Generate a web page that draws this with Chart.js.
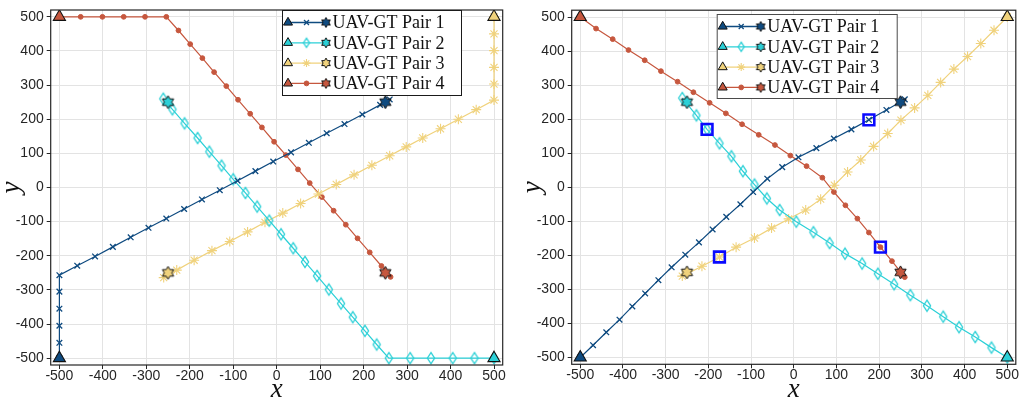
<!DOCTYPE html>
<html>
<head>
<meta charset="utf-8">
<script src="https://cdn.jsdelivr.net/npm/chart.js@4.4.1/dist/chart.umd.min.js"></script>
<style>
  html, body { margin: 0; padding: 0; background: #ffffff; }
  #wrap { position: relative; width: 1026px; height: 402px; overflow: hidden; }
  .panel { position: absolute; top: 0; width: 513px; height: 402px; }
  #p1 { left: 0; }
  #p2 { left: 513px; }
</style>
</head>
<body>
<div id="wrap">
  <div class="panel" id="p1"><canvas id="c1"></canvas></div>
  <div class="panel" id="p2"><canvas id="c2"></canvas></div>
</div>
<script>
// ---- series names and colours ----
const pairNames = ['UAV-GT Pair 1', 'UAV-GT Pair 2', 'UAV-GT Pair 3', 'UAV-GT Pair 4'];
const pairColors = ['#0f4b80', '#2bd0d7', '#f0d27c', '#c6573e'];

// ---- shared axis ticks ----
const tickValues = [-500, -400, -300, -200, -100, 0, 100, 200, 300, 400, 500];

// ---- start (triangle) and goal (hexagram) positions for each pair ----
const startPoints = [[-500, -500], [500, -500], [500, 500], [-500, 500]];
const goalPoints = [[250, 250], [-250, 250], [-250, -250], [250, -250]];

// ---- left panel trajectories ----
const leftPair1 = [[-500,-500],[-500,-455],[-500,-405],[-500,-355],[-500,-305],[-500,-257],
  [-459,-229],[-418,-202],[-377,-174],[-336,-146],[-295,-118],[-254,-91],[-213,-63],
  [-172,-35],[-131,-8],[-90,20],[-49,48],[-8,76],[33,103],[74,131],[115,159],[156,186],
  [197,214],[238,242],[260,258]];
const leftPair2 = [[500,-500],[455,-500],[405,-500],[355,-500],[307,-500],[258,-500],
  [230,-460],[203,-420],[175,-380],[148,-340],[120,-299],[93,-259],[65,-218],[38,-178],
  [10,-137],[-17,-97],[-45,-56],[-72,-16],[-100,24],[-127,64],[-155,105],[-182,145],
  [-212,188],[-240,229],[-261,260]];
const leftPair3 = [[500,500],[500,450],[500,401],[500,352],[500,303],[500,256],
  [459,228],[418,200],[377,172],[336,145],[298,119],[260,93],[219,65],[178,37],[137,9],
  [96,-19],[55,-47],[14,-75],[-27,-102],[-67,-130],[-108,-158],[-149,-185],[-190,-213],
  [-230,-242],[-260,-264]];
const leftPair4 = [[-500,500],[-451,500],[-401,500],[-352,500],[-303,500],[-254,500],
  [-226,460],[-199,420],[-171,379],[-144,338],[-116,297],[-89,257],[-61,216],[-34,176],
  [-6,134],[21,95],[49,53],[76,13],[104,-28],[131,-68],[159,-109],[186,-149],[214,-190],
  [241,-230],[262,-262]];

// ---- right panel trajectories ----
const rightPair1 = [[-500,-500],[-470,-464],[-439,-426],[-408,-389],[-378,-350],[-348,-312],
  [-317,-273],[-286,-235],[-254,-198],[-222,-162],[-190,-124],[-158,-87],[-125,-50],
  [-95,-14],[-62,25],[-27,59],[11,88],[53,115],[94,143],[135,170],[176,198],[217,227],
  [260,258]];
const rightPair2 = [[500,-500],[463,-471],[425,-440],[387,-411],[350,-380],[312,-348],
  [273,-317],[235,-285],[197,-254],[160,-224],[120,-195],[84,-164],[46,-132],[6,-101],
  [-33,-67],[-63,-33],[-92,8],[-119,47],[-146,91],[-174,129],[-203,170],[-228,211],
  [-261,262]];
const rightPair3 = [[500,500],[469,461],[438,422],[407,384],[375,347],[344,308],[314,270],
  [283,233],[251,197],[220,158],[187,120],[157,80],[126,45],[95,6],[63,-35],[28,-67],
  [-12,-93],[-52,-120],[-92,-149],[-135,-176],[-174,-205],[-215,-232],[-261,-261]];
const rightPair4 = [[-500,500],[-463,466],[-424,435],[-387,403],[-349,373],[-311,341],
  [-272,310],[-235,279],[-197,248],[-159,217],[-121,185],[-82,154],[-44,124],[-8,93],
  [30,62],[67,28],[94,-14],[121,-53],[149,-92],[176,-133],[203,-176],[230,-217],[260,-264]];

// ---- highlighted waypoints (blue squares) on the right panel ----
const rightMarked = [[176,198],[-203,170],[-174,-205],[203,-176]];

// ---------------------------------------------------------------
const toXY = arr => arr.map(([x, y]) => ({ x, y }));

function makeHexagram(fill, R) {
  const s = Math.ceil(R * 2 + 4);
  const cv = document.createElement('canvas');
  cv.width = s; cv.height = s;
  const g = cv.getContext('2d');
  const c = s / 2, r = R / Math.sqrt(3);
  g.beginPath();
  for (let k = 0; k < 12; k++) {
    const a = -Math.PI / 2 + k * Math.PI / 6;
    const rr = k % 2 === 0 ? R : r;
    const px = c + rr * Math.cos(a), py = c + rr * Math.sin(a);
    if (k === 0) g.moveTo(px, py); else g.lineTo(px, py);
  }
  g.closePath();
  g.fillStyle = fill; g.fill();
  g.strokeStyle = '#111111'; g.lineWidth = 1; g.stroke();
  return cv;
}

function makeDiamond(color, hw, hh) {
  const w = Math.ceil(hw * 2 + 4), h = Math.ceil(hh * 2 + 4);
  const cv = document.createElement('canvas');
  cv.width = w; cv.height = h;
  const g = cv.getContext('2d');
  const cx = w / 2, cy = h / 2;
  g.beginPath();
  g.moveTo(cx, cy - hh); g.lineTo(cx + hw, cy); g.lineTo(cx, cy + hh); g.lineTo(cx - hw, cy);
  g.closePath();
  g.strokeStyle = color; g.lineWidth = 1.3; g.stroke();
  return cv;
}

const hexImgs = pairColors.map(c => makeHexagram(c, 6.5));
const hexLegend = pairColors.map(c => makeHexagram(c, 5));
const diamondImg = makeDiamond(pairColors[1], 3.6, 5.6);
const diamondLegend = makeDiamond(pairColors[1], 3, 4.6);

const markerSpecs = [
  { pointStyle: 'crossRot', radius: 4, borderWidth: 1.3 },
  { pointStyle: diamondImg, radius: 5, borderWidth: 1.3 },
  { pointStyle: 'star', radius: 5, borderWidth: 1.1 },
  { pointStyle: 'circle', radius: 2.4, borderWidth: 1 }
];
const legendMarkers = [
  { pointStyle: 'crossRot', radius: 3.5, borderWidth: 1.3 },
  { pointStyle: diamondLegend, radius: 4, borderWidth: 1.3 },
  { pointStyle: 'star', radius: 4, borderWidth: 1.1 },
  { pointStyle: 'circle', radius: 2.4, borderWidth: 1 }
];

function trajectoryDataset(points, i) {
  const m = markerSpecs[i];
  return {
    label: pairNames[i],
    data: toXY(points),
    showLine: true,
    borderColor: pairColors[i],
    backgroundColor: pairColors[i],
    borderWidth: 1.2,
    pointStyle: m.pointStyle,
    pointRadius: m.radius,
    pointBorderWidth: m.borderWidth,
    pointBorderColor: pairColors[i],
    pointBackgroundColor: i === 3 ? pairColors[i] : 'rgba(0,0,0,0)',
    order: 3 + i
  };
}

// Frame, and a legend that shows start ▲ — marker — goal ✡ for every pair
const framePlugin = {
  id: 'frameAndLegend',
  afterDatasetsDraw(chart, args, opts) {
    const { ctx, chartArea: a } = chart;
    ctx.save();
    ctx.strokeStyle = '#262626';
    ctx.lineWidth = 1.2;
    ctx.strokeRect(a.left, a.top, a.right - a.left, a.bottom - a.top);

    const L = opts.box;
    ctx.fillStyle = '#ffffff';
    ctx.fillRect(L.x, L.y, L.w, L.h);
    ctx.strokeStyle = opts.borderColor;
    ctx.lineWidth = 1;
    ctx.strokeRect(L.x + 0.5, L.y + 0.5, L.w, L.h);

    for (let i = 0; i < pairNames.length; i++) {
      const cy = L.y + 12.5 + i * 20.3;
      const x0 = L.x + 6, xm = L.x + 24.5, x1 = L.x + 44;
      ctx.strokeStyle = pairColors[i];
      ctx.lineWidth = 1.3;
      ctx.beginPath(); ctx.moveTo(x0, cy); ctx.lineTo(x1, cy); ctx.stroke();

      const m = legendMarkers[i];
      ctx.strokeStyle = pairColors[i];
      ctx.fillStyle = i === 3 ? pairColors[i] : 'rgba(0,0,0,0)';
      ctx.lineWidth = m.borderWidth;
      Chart.helpers.drawPoint(ctx, { pointStyle: m.pointStyle, radius: m.radius, rotation: 0, borderWidth: m.borderWidth }, xm, cy);

      ctx.fillStyle = pairColors[i];
      ctx.strokeStyle = '#111111';
      ctx.lineWidth = 1;
      Chart.helpers.drawPoint(ctx, { pointStyle: 'triangle', radius: 5.2, rotation: 0, borderWidth: 1 }, x0, cy);
      Chart.helpers.drawPoint(ctx, { pointStyle: hexLegend[i], radius: 5, rotation: 0, borderWidth: 1 }, x1, cy);

      ctx.fillStyle = '#111111';
      ctx.font = '18px "Liberation Serif", "Times New Roman", serif';
      ctx.textBaseline = 'middle';
      ctx.textAlign = 'left';
      ctx.fillText(pairNames[i], L.x + 50.5, cy + 1);
    }
    ctx.restore();
  }
};

function buildChart(canvasId, trajectories, marked, layout) {
  const datasets = [];
  if (marked) {
    datasets.push({
      label: 'marked',
      data: toXY(marked),
      showLine: false,
      pointStyle: 'rect',
      pointRadius: 7.6,
      pointBorderWidth: 2.6,
      pointBorderColor: '#0a0aff',
      pointBackgroundColor: 'rgba(0,0,0,0)',
      order: 0
    });
  }
  datasets.push({
    label: 'goals',
    data: toXY(goalPoints),
    showLine: false,
    pointStyle: hexImgs,
    pointRadius: 6,
    order: 1
  });
  datasets.push({
    label: 'starts',
    data: toXY(startPoints),
    showLine: false,
    pointStyle: 'triangle',
    pointRadius: 7,
    pointBorderWidth: 1.1,
    pointBorderColor: '#111111',
    pointBackgroundColor: pairColors,
    order: 2
  });
  trajectories.forEach((t, i) => datasets.push(trajectoryDataset(t, i)));

  const tickFont = { family: '"Liberation Sans", Arial, sans-serif', size: 14, lineHeight: 1 };
  const titleFont = (lh) => ({ family: '"Liberation Serif", "Times New Roman", serif', size: 27, style: 'italic', lineHeight: lh });

  const axis = (isX) => ({
    type: 'linear',
    min: -520, max: 520,
    afterBuildTicks: s => { s.ticks = tickValues.map(v => ({ value: v })); },
    afterFit: s => { if (isX) s.height = layout.xAxisH; else s.width = layout.yAxisW; },
    grid: {
      color: '#e3e3e3', lineWidth: 1,
      drawTicks: true, tickLength: 4, tickColor: '#262626', tickWidth: 1
    },
    border: { display: false },
    ticks: {
      font: tickFont, color: '#262626',
      padding: isX ? 0 : 3,
      maxRotation: 0, autoSkip: false,
      callback: v => String(v)
    },
    title: {
      display: true,
      text: isX ? 'x' : 'y',
      color: '#111111',
      font: titleFont(isX ? layout.xTitleLH : layout.yTitleLH),
      padding: 0
    }
  });

  return new Chart(document.getElementById(canvasId), {
    type: 'scatter',
    data: { datasets },
    options: {
      responsive: true,
      maintainAspectRatio: false,
      animation: false,
      devicePixelRatio: 1,
      layout: { padding: { left: 0, bottom: 0, top: layout.top, right: layout.right } },
      plugins: {
        legend: { display: false },
        tooltip: { enabled: false },
        frameAndLegend: { box: layout.legendBox, borderColor: layout.legendBorder }
      },
      scales: { x: axis(true), y: axis(false) }
    },
    plugins: [framePlugin]
  });
}

buildChart('c1', [leftPair1, leftPair2, leftPair3, leftPair4], null, {
  top: 8.3, right: 10.3, yAxisW: 50.7, xAxisH: 37,
  xTitleLH: '25px', yTitleLH: '24px',
  legendBox: { x: 282, y: 10, w: 179, h: 85 }, legendBorder: '#1a1a1a'
});
buildChart('c2', [rightPair1, rightPair2, rightPair3, rightPair4], rightMarked, {
  top: 7.3, right: 1.7, yAxisW: 58.7, xAxisH: 37.7,
  xTitleLH: '25px', yTitleLH: '40px',
  legendBox: { x: 203.7, y: 14, w: 180, h: 84 }, legendBorder: '#4a4a4a'
});
</script>
</body>
</html>
